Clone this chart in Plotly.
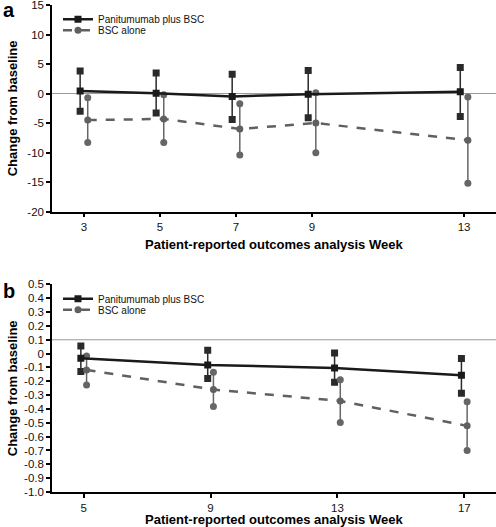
import plotly.graph_objects as go

# ---------------- data ----------------
weeks_a = [3, 5, 7, 9, 13]
pan_mean_a = [0.45, 0.05, -0.5, -0.1, 0.3]
pan_hi_a = [3.8, 3.5, 3.25, 3.9, 4.4]
pan_lo_a = [-3.0, -3.3, -4.4, -4.1, -3.9]
bsc_mean_a = [-4.5, -4.3, -6.0, -5.0, -7.9]
bsc_hi_a = [-0.7, -0.2, -1.75, 0.15, -0.6]
bsc_lo_a = [-8.3, -8.3, -10.4, -10.05, -15.2]

weeks_b = [5, 9, 13, 17]
pan_mean_b = [-0.033, -0.082, -0.103, -0.156]
pan_hi_b = [0.056, 0.024, 0.005, -0.036]
pan_lo_b = [-0.13, -0.18, -0.207, -0.286]
bsc_mean_b = [-0.118, -0.26, -0.342, -0.522]
bsc_hi_b = [-0.017, -0.134, -0.188, -0.347]
bsc_lo_b = [-0.226, -0.383, -0.498, -0.70]

yticks_a = [15, 10, 5, 0, -5, -10, -15, -20]
yticktext_a = ["15", "10", "5", "0", "-5", "-10", "-15", "-20"]
yticks_b = [0.5, 0.4, 0.3, 0.2, 0.1, 0, -0.1, -0.2, -0.3, -0.4, -0.5,
            -0.6, -0.7, -0.8, -0.9, -1.0]
yticktext_b = ["0.5", "0.4", "0.3", "0.2", "0.1", "0", "-0.1", "-0.2", "-0.3",
               "-0.4", "-0.5", "-0.6", "-0.7", "-0.8", "-0.9", "-1.0"]

names = ["Panitumumab plus BSC", "BSC alone"]
# ---------------------------------------

PAN_C = "#1a1a1a"
BSC_C = "#606060"
WHISK_PAN = "#2a2a2a"
WHISK_BSC = "#666666"
OFF_A = 0.1
OFF_B = 0.09

fig = go.Figure()


def whiskers(weeks, lo, hi, off, color, symbol, size, xa, ya):
    xs, ys = [], []
    for w, l, h in zip(weeks, lo, hi):
        xs += [w + off, w + off, None]
        ys += [l, h, None]
    fig.add_trace(go.Scatter(
        x=xs, y=ys, mode="lines+markers",
        line=dict(color=color, width=1.5),
        marker=dict(symbol=symbol, size=size, color=color),
        showlegend=False, xaxis=xa, yaxis=ya, hoverinfo="skip"))


def mean_line(weeks, mean, off, color, symbol, size, dash, name, xa, ya, legend):
    fig.add_trace(go.Scatter(
        x=[w + off for w in weeks], y=mean, mode="lines+markers",
        line=dict(color=color, width=2.5, dash=dash),
        marker=dict(symbol=symbol, size=size, color=color),
        name=name, xaxis=xa, yaxis=ya, legend=legend))


# panel a
whiskers(weeks_a, pan_lo_a, pan_hi_a, -OFF_A, WHISK_PAN, "square", 7, "x", "y")
whiskers(weeks_a, bsc_lo_a, bsc_hi_a, OFF_A, WHISK_BSC, "circle", 7, "x", "y")
mean_line(weeks_a, pan_mean_a, -OFF_A, PAN_C, "square", 7, "solid", names[0], "x", "y", "legend")
mean_line(weeks_a, bsc_mean_a, OFF_A, BSC_C, "circle", 7, "dash", names[1], "x", "y", "legend3")

# panel b
whiskers(weeks_b, pan_lo_b, pan_hi_b, -OFF_B, WHISK_PAN, "square", 7, "x2", "y2")
whiskers(weeks_b, bsc_lo_b, bsc_hi_b, OFF_B, WHISK_BSC, "circle", 7, "x2", "y2")
mean_line(weeks_b, pan_mean_b, -OFF_B, PAN_C, "square", 7, "solid", names[0], "x2", "y2", "legend2")
mean_line(weeks_b, bsc_mean_b, OFF_B, BSC_C, "circle", 7, "dash", names[1], "x2", "y2", "legend4")

FONT = "Liberation Sans, Arial, sans-serif"
axis_common = dict(showline=True, linecolor="black", linewidth=1.5,
                   ticks="outside", ticklen=4, tickwidth=1.5, tickcolor="black",
                   showgrid=False, zeroline=False, automargin=False,
                   ticklabeloverflow="allow",
                   tickfont=dict(family=FONT, size=11.5, color="#111"))


def leg(y):
    return dict(x=0.0135, y=y, xanchor="left", yanchor="middle",
                bgcolor="rgba(0,0,0,0)", font=dict(family=FONT, size=10),
                tracegroupgap=0, itemwidth=30)


fig.update_layout(
    width=496, height=527,
    margin=dict(l=52, r=0, t=5, b=35),
    plot_bgcolor="white", paper_bgcolor="white",
    font=dict(family=FONT, color="#111"),
    xaxis=dict(domain=[0, 1], anchor="y", range=[2.16, 13.84],
               tickvals=weeks_a, **axis_common),
    yaxis=dict(domain=[0.5758, 1.0], anchor="x", range=[-20, 15],
               tickvals=yticks_a, ticktext=yticktext_a, **axis_common),
    xaxis2=dict(domain=[0, 1], anchor="y2", range=[4, 18],
                tickvals=weeks_b, **axis_common),
    yaxis2=dict(domain=[0, 0.4262], anchor="x2", range=[-1.0, 0.5],
                tickvals=yticks_b, ticktext=yticktext_b, **axis_common),
    legend=leg(0.9707),
    legend3=leg(0.9482),
    legend2=leg(0.3969),
    legend4=leg(0.3744),
    shapes=[
        dict(type="line", xref="x domain", yref="y", x0=0, x1=1, y0=0, y1=0,
             line=dict(color="#999999", width=1), layer="below"),
        dict(type="line", xref="x2 domain", yref="y2", x0=0, x1=1, y0=0.1, y1=0.1,
             line=dict(color="#999999", width=1), layer="below"),
    ],
    annotations=[
        dict(text="<b>a</b>", xref="paper", yref="paper", x=0, y=1, xshift=-51,
             yshift=-5, xanchor="left", yanchor="middle", showarrow=False,
             height=18, valign="middle",
             font=dict(family=FONT, size=20, color="black")),
        dict(text="<b>b</b>", xref="paper", yref="paper", x=0, y=0.4262, xshift=-51,
             yshift=-7, xanchor="left", yanchor="middle", showarrow=False,
             font=dict(family=FONT, size=20, color="black")),
        dict(text="<b>Change from baseline</b>", xref="paper", yref="y domain",
             x=0, y=0.5, xshift=-40, textangle=-90, showarrow=False,
             xanchor="center", yanchor="middle",
             font=dict(family=FONT, size=13, color="black")),
        dict(text="<b>Change from baseline</b>", xref="paper", yref="y2 domain",
             x=0, y=0.5, xshift=-40, textangle=-90, showarrow=False,
             xanchor="center", yanchor="middle",
             font=dict(family=FONT, size=13, color="black")),
        dict(text="<b>Patient-reported outcomes analysis Week</b>", xref="x domain",
             yref="y domain", x=0.5, y=0, yshift=-33, showarrow=False,
             xanchor="center", yanchor="middle",
             font=dict(family=FONT, size=13, color="black")),
        dict(text="<b>Patient-reported outcomes analysis Week</b>", xref="x2 domain",
             yref="y2 domain", x=0.5, y=0, yshift=-27.5, showarrow=False,
             xanchor="center", yanchor="middle",
             font=dict(family=FONT, size=13, color="black")),
    ],
)

fig.write_html("out.html", config={"displayModeBar": False},
               post_script="document.body.style.margin='0';document.body.style.overflow='hidden';")
